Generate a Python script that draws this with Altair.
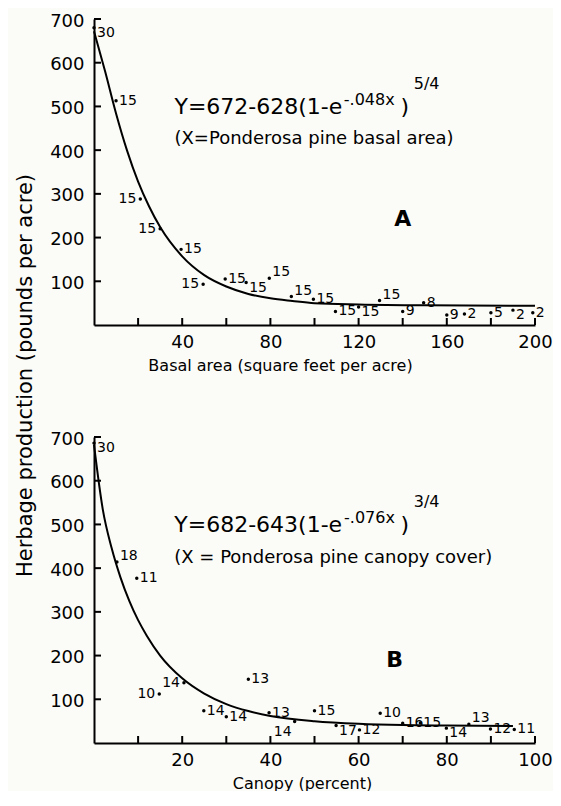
import altair as alt
import pandas as pd

FONT = "DejaVu Sans"

# ---------------- Panel A: basal area ----------------
a_x = [0, 10, 21, 30, 39.5, 49.5, 59.5, 69, 79.5, 89.5, 99.5, 109.5, 120, 129.5, 140, 149.5, 160, 168, 180, 190, 199]
a_y = [680, 513, 288, 220, 173, 93, 105, 97, 107, 65, 59, 31, 41, 56, 31, 51, 23, 25, 28, 34, 28]
a_n = ["30", "15", "15", "15", "15", "15", "15", "15", "15", "15", "15", "15", "15", "15", "9", "8", "9", "2", "5", "2", "2"]
a_side = ["rd", "r", "l", "l", "r", "l", "r", "rd", "ru", "ru", "r", "r", "rd", "ru", "r", "r", "r", "r", "r", "rd", "r"]

a_curve_x = [0, 5, 10, 15, 20, 25, 30, 40, 50, 60, 70, 80, 90, 100, 120, 150, 200]
a_curve_y = [672, 581, 484, 399, 328, 271, 224, 157, 114, 88, 71, 61, 55, 50, 47, 45, 44]

a_ticks = [20, 40, 60, 80, 100, 120, 140, 160, 180, 200]
a_labels = [40, 80, 120, 160, 200]

# ---------------- Panel B: canopy ----------------
b_x = [0, 5.2, 9.7, 14.8, 20.4, 35, 24.9, 30, 39.7, 45.5, 50, 54.9, 60.2, 64.9, 70, 74, 79.9, 85, 89.9, 95.3]
b_y = [686, 414, 377, 112, 138, 146, 74, 60, 69, 49, 74, 40, 30, 68, 45, 46, 34, 43, 32, 31]
b_n = ["30", "18", "11", "10", "14", "13", "14", "14", "13", "14", "15", "17", "12", "10", "16", "15", "14", "13", "12", "11"]
b_side = ["rd", "ru", "r", "l", "l", "r", "r", "r", "r", "bl", "r", "rd", "r", "r", "r", "r", "rd", "ru", "r", "r"]

b_curve_x = [0, 2, 4, 6, 8, 10, 12, 15, 20, 25, 30, 35, 40, 50, 60, 70, 80, 95]
b_curve_y = [682, 534, 446, 379, 325, 281, 245, 200, 148, 113, 89, 73, 62, 50, 44, 41, 40, 39]

b_ticks = [10, 20, 30, 40, 50, 60, 70, 80, 90, 100]
b_labels = [20, 40, 60, 80, 100]

y_ticks = [100, 200, 300, 400, 500, 600, 700]

# equation pieces: (text, x, y) per panel
a_eq_main = ("Y=672-628(1-e", 36.5, 499)
a_eq_sup = ("-.048x", 113.3, 515)
a_eq_par = (")", 139.0, 499)
a_eq_exp = ("5/4", 145.0, 551)
a_eq_line2 = ("(X=Ponderosa pine basal area)", 36.5, 426)
a_letter = ("A", 140.0, 243)

b_eq_main = ("Y=682-643(1-e", 18.2, 499)
b_eq_sup = ("-.076x", 56.7, 515)
b_eq_par = (")", 69.5, 499)
b_eq_exp = ("3/4", 72.5, 551)
b_eq_line2 = ("(X = Ponderosa pine canopy cover)", 18.2, 424)
b_letter = ("B", 68.2, 190)

SIDES = {
    "r": dict(align="left", dx=3, dy=0),
    "l": dict(align="right", dx=-4, dy=0),
    "ru": dict(align="left", dx=3, dy=-6),
    "rd": dict(align="left", dx=3, dy=5),
    "bl": dict(align="center", dx=-12, dy=10),
}

W, H = 441, 306


def text_layer(piece, xs, ys, size, weight="normal", align="left"):
    t, x, y = piece
    df = pd.DataFrame({"x": [x], "y": [y], "t": [t]})
    return alt.Chart(df).mark_text(
        align=align, baseline="middle", font=FONT, fontSize=size,
        fontWeight=weight, color="black"
    ).encode(
        x=alt.X("x:Q", scale=xs),
        y=alt.Y("y:Q", scale=ys),
        text="t:N",
    )


def panel(px, py, pn, pside, cx, cy, xmax, xticks, xlabels, xtitle, xtitle_x,
          eq, letter, first):
    xs = alt.Scale(domain=[0, xmax], nice=False, zero=True)
    ys = alt.Scale(domain=[0, 700], nice=False)

    xaxis = alt.Axis(
        values=xlabels, ticks=False, grid=False, domainColor="black", domainWidth=2,
        labelFont=FONT, labelFontSize=18, labelColor="black", labelPadding=8,
        labelFlush=False, labelOverlap=False,
        title=xtitle, titleFont=FONT, titleFontSize=16, titleFontWeight="normal",
        titleColor="black", titleX=xtitle_x, titleY=40, titleBaseline="middle",
        titleAlign="center",
    )
    yargs = dict(
        values=y_ticks, ticks=False, grid=False, domainColor="black", domainWidth=2,
        labelFont=FONT, labelFontSize=18, labelColor="black", labelPadding=10,
        labelOffset=2, labelFlush=False, labelOverlap=False,
    )
    if first:
        yaxis = alt.Axis(
            title="Herbage production (pounds per acre)", titleFont=FONT,
            titleFontSize=21, titleFontWeight="normal", titleColor="black",
            titleX=-63, titleY=356, titleAngle=270, titleBaseline="alphabetic",
            titleAlign="center", **yargs,
        )
    else:
        yaxis = alt.Axis(title=None, **yargs)

    curve_df = pd.DataFrame({"x": cx, "y": cy})
    pts = pd.DataFrame({"x": px, "y": py, "n": pn, "side": pside})

    curve = alt.Chart(curve_df).mark_line(
        color="black", strokeWidth=2, interpolate="monotone"
    ).encode(
        x=alt.X("x:Q", scale=xs, axis=xaxis),
        y=alt.Y("y:Q", scale=ys, axis=yaxis),
    )
    dots = alt.Chart(pts).mark_circle(size=12, color="black", opacity=1).encode(
        x=alt.X("x:Q", scale=xs),
        y=alt.Y("y:Q", scale=ys),
    )
    labels = []
    for s, opt in SIDES.items():
        labels.append(
            alt.Chart(pts).transform_filter(alt.datum.side == s).mark_text(
                baseline="middle", font=FONT, fontSize=14, color="black", **opt
            ).encode(
                x=alt.X("x:Q", scale=xs),
                y=alt.Y("y:Q", scale=ys),
                text="n:N",
            )
        )
    ytick = alt.Chart(pd.DataFrame({"y": y_ticks})).mark_rule(
        color="black", strokeWidth=2
    ).encode(
        y=alt.Y("y:Q", scale=ys), x=alt.value(0), x2=alt.value(7)
    )
    xtick = alt.Chart(pd.DataFrame({"x": xticks})).mark_rule(
        color="black", strokeWidth=2
    ).encode(
        x=alt.X("x:Q", scale=xs), y=alt.value(H), y2=alt.value(H - 7)
    )
    main, sup, par, exp_, line2 = eq
    eq_layers = [
        text_layer(main, xs, ys, 22),
        text_layer(sup, xs, ys, 16),
        text_layer(par, xs, ys, 22),
        text_layer(exp_, xs, ys, 16),
        text_layer(line2, xs, ys, 18),
        text_layer(letter, xs, ys, 22, weight="bold", align="center"),
    ]
    return alt.layer(curve, ytick, xtick, dots, *labels, *eq_layers).properties(
        width=W, height=H
    )


chart_a = panel(a_x, a_y, a_n, a_side, a_curve_x, a_curve_y, 200, a_ticks, a_labels,
                "Basal area (square feet per acre)", 186,
                (a_eq_main, a_eq_sup, a_eq_par, a_eq_exp, a_eq_line2), a_letter, True)
chart_b = panel(b_x, b_y, b_n, b_side, b_curve_x, b_curve_y, 100, b_ticks, b_labels,
                "Canopy (percent)", 208,
                (b_eq_main, b_eq_sup, b_eq_par, b_eq_exp, b_eq_line2), b_letter, False)

chart = alt.vconcat(chart_a, chart_b, spacing=112, bounds="flush").properties(
    padding={"left": 6, "top": 4, "right": 0, "bottom": 0},
    background="#fbfbf7",
).configure_view(stroke=None)

chart.save("out.html", embed_options={"renderer": "svg", "actions": False})
